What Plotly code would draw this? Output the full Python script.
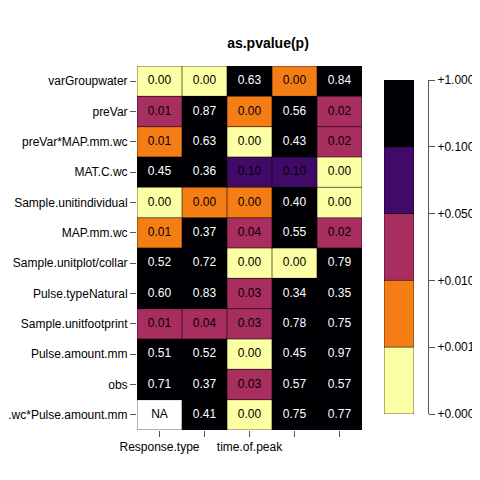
import plotly.graph_objects as go

# rows top to bottom, columns left to right
rows = ['varGroupwater', 'preVar', 'preVar*MAP.mm.wc', 'MAT.C.wc', 'Sample.unitindividual',
        'MAP.mm.wc', 'Sample.unitplot/collar', 'Pulse.typeNatural', 'Sample.unitfootprint',
        'Pulse.amount.mm', 'obs', 'MAP.mm.wc*Pulse.amount.mm']
cols = ['Response.type', 'c2', 'time.of.peak', 'c4', 'c5']
col_labels = ['Response.type', '', 'time.of.peak', '', '']

# p-values (estimated so each falls in the bin of its cell colour)
pvals = [
    [0.0004, 0.0004, 0.63, 0.004, 0.84],
    [0.012, 0.87, 0.004, 0.56, 0.02],
    [0.008, 0.63, 0.0004, 0.43, 0.02],
    [0.45, 0.36, 0.096, 0.098, 0.0004],
    [0.0004, 0.003, 0.003, 0.40, 0.0004],
    [0.008, 0.37, 0.04, 0.55, 0.02],
    [0.52, 0.72, 0.0004, 0.0004, 0.79],
    [0.60, 0.83, 0.03, 0.34, 0.35],
    [0.012, 0.04, 0.03, 0.78, 0.75],
    [0.51, 0.52, 0.0004, 0.45, 0.97],
    [0.71, 0.37, 0.03, 0.57, 0.57],
    [None, 0.41, 0.0004, 0.75, 0.77],
]
breaks = [0.001, 0.01, 0.05, 0.1]
break_labels = ['+0.000', '+0.001', '+0.010', '+0.050', '+0.100', '+1.000']
colors = ['#FCFFA4', '#F57D15', '#A82E5F', '#420A68', '#000004']


def bin_of(p):
    if p is None:
        return None
    return sum(p >= b for b in breaks)


z = [[bin_of(p) for p in r] for r in pvals]
cs = []
for i, c in enumerate(colors):
    cs += [[i / 5, c], [(i + 1) / 5, c]]

fig = go.Figure()
fig.add_trace(go.Heatmap(z=z, x=cols, y=rows, zmin=-0.5, zmax=4.5, colorscale=cs,
                         showscale=False, hoverinfo='skip'))

# cell text
tx, ty, tt, tc = [], [], [], []
for i, r in enumerate(pvals):
    for j, p in enumerate(r):
        tx.append(cols[j]); ty.append(rows[i])
        tt.append('NA' if p is None else '%.2f' % p)
        tc.append('white' if bin_of(p) == 4 else 'black')
fig.add_trace(go.Scatter(x=tx, y=ty, text=tt, mode='text',
                         textfont=dict(color=tc, size=12, family='Liberation Sans'),
                         hoverinfo='skip', showlegend=False))

# colour key as its own heatmap
fig.add_trace(go.Heatmap(z=[[i] for i in range(5)], x=[0], y=list(range(5)),
                         zmin=-0.5, zmax=4.5, colorscale=cs,
                         showscale=False, xaxis='x2', yaxis='y2', hoverinfo='skip'))

# cell borders
shapes = []
for k in range(len(rows) + 1):
    shapes.append(dict(type='line', xref='x', yref='y', x0=-0.5, x1=4.5, y0=k - 0.5, y1=k - 0.5,
                       line=dict(color='black', width=0.6)))
for k in range(len(cols) + 1):
    shapes.append(dict(type='line', xref='x', yref='y', x0=k - 0.5, x1=k - 0.5, y0=-0.5, y1=len(rows) - 0.5,
                       line=dict(color='black', width=0.6)))
for k in range(6):
    shapes.append(dict(type='line', xref='x2', yref='y2', x0=-0.5, x1=0.5, y0=k - 0.5, y1=k - 0.5,
                       line=dict(color='black', width=0.6)))
for xv in (-0.5, 0.5):
    shapes.append(dict(type='line', xref='x2', yref='y2', x0=xv, x1=xv, y0=-0.5, y1=4.5,
                       line=dict(color='black', width=0.6)))

W = 480.0
fig.update_layout(
    width=480, height=480, margin=dict(l=0, r=0, t=0, b=0, autoexpand=False),
    paper_bgcolor='white', plot_bgcolor='white',
    font=dict(family='Liberation Sans', size=12, color='black'),
    title=dict(text='<b>as.pvalue(p)</b>', x=260 / W, y=1 - 35 / W, xanchor='center', yanchor='middle',
               font=dict(size=14)),
    shapes=shapes,
    xaxis=dict(domain=[129 / W, 354 / W], range=[-0.5, 4.5], tickmode='array',
               tickvals=cols, ticktext=col_labels, ticks='outside', ticklen=6, tickcolor='#555',
               showgrid=False, zeroline=False, tickfont=dict(size=12), automargin=False),
    yaxis=dict(domain=[1 - 422 / W, 1 - 58 / W], range=[len(rows) - 0.5, -0.5],
               ticks='outside', ticklen=6, tickcolor='#555', showgrid=False, zeroline=False,
               tickfont=dict(size=12), automargin=False),
    xaxis2=dict(domain=[376 / W, 406 / W], range=[-0.5, 0.5], anchor='y2', visible=False),
    yaxis2=dict(domain=[1 - 406 / W, 1 - 72 / W], range=[-0.5, 4.5], anchor='free', position=420 / W,
                side='right', tickmode='array', tickvals=[k - 0.5 for k in range(6)],
                ticktext=break_labels, ticks='outside', ticklen=6, tickcolor='#555',
                showline=True, linecolor='#555', showgrid=False, zeroline=False, automargin=False),
)
fig.write_html('out.html')
